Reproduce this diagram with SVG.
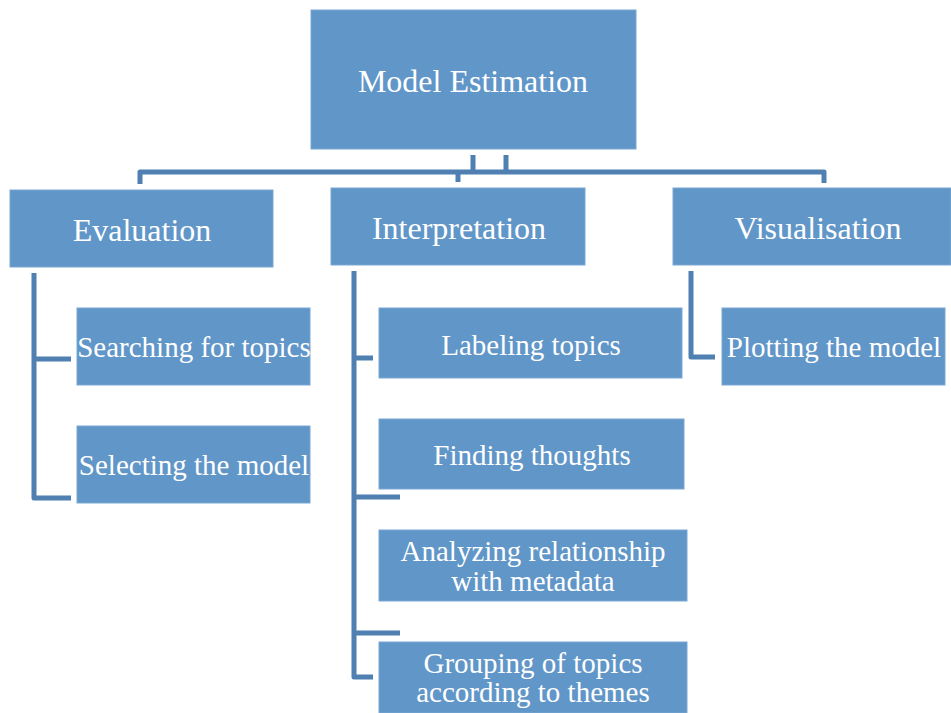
<svg xmlns="http://www.w3.org/2000/svg" width="951" height="713" viewBox="0 0 951 713">
<style>
.box{fill:#6196c8;stroke:#7ba8d4;stroke-width:1}
.t{font-family:"Liberation Serif","Times New Roman",serif;fill:#ffffff;text-anchor:middle}
.l1{font-size:32px}
.l2{font-size:29px}
.c{fill:none;stroke:#4f80b1;stroke-width:5;stroke-linejoin:round}
</style>
<g id="connectors">
<path class="c" d="M140,184 V172 H824 V183"/>
<path class="c" d="M473,155 V172"/>
<path class="c" d="M506,155 V172"/>
<path class="c" d="M458,172 V182"/>
<path class="c" d="M34,273 V498 H71"/>
<path class="c" d="M34,359 H71"/>
<path class="c" d="M354,271 V677 H373"/>
<path class="c" d="M354,358 H373"/>
<path class="c" d="M354,497 H400"/>
<path class="c" d="M354,633 H400"/>
<path class="c" d="M691,271 V357 H715"/>
</g>
<g id="model-estimation"><rect class="box" x="311" y="10" width="325" height="139"/><text class="t l1" x="473" y="92">Model Estimation</text></g>
<g id="evaluation"><rect class="box" x="10" y="190" width="263" height="77"/><text class="t l1" x="142" y="241">Evaluation</text></g>
<g id="interpretation"><rect class="box" x="331" y="188" width="254" height="77"/><text class="t l1" x="459" y="239">Interpretation</text></g>
<g id="visualisation"><rect class="box" x="673" y="188" width="278" height="77"/><text class="t l1" x="818" y="239">Visualisation</text></g>
<g id="searching"><rect class="box" x="77" y="308" width="233" height="77"/><text class="t l2" x="194" y="357">Searching for topics</text></g>
<g id="selecting"><rect class="box" x="77" y="426" width="233" height="77"/><text class="t l2" x="194" y="475">Selecting the model</text></g>
<g id="labeling"><rect class="box" x="379" y="308" width="303" height="70"/><text class="t l2" x="531" y="355">Labeling topics</text></g>
<g id="finding"><rect class="box" x="379" y="419" width="305" height="70"/><text class="t l2" x="532" y="465">Finding thoughts</text></g>
<g id="analyzing"><rect class="box" x="379" y="530" width="308" height="71"/><text class="t l2" x="533" y="561">Analyzing relationship</text><text class="t l2" x="533" y="591">with metadata</text></g>
<g id="grouping"><rect class="box" x="379" y="642" width="308" height="71"/><text class="t l2" x="533" y="673">Grouping of topics</text><text class="t l2" x="533" y="702">according to themes</text></g>
<g id="plotting"><rect class="box" x="722" y="308" width="223" height="77"/><text class="t l2" x="834" y="357">Plotting the model</text></g>
</svg>
